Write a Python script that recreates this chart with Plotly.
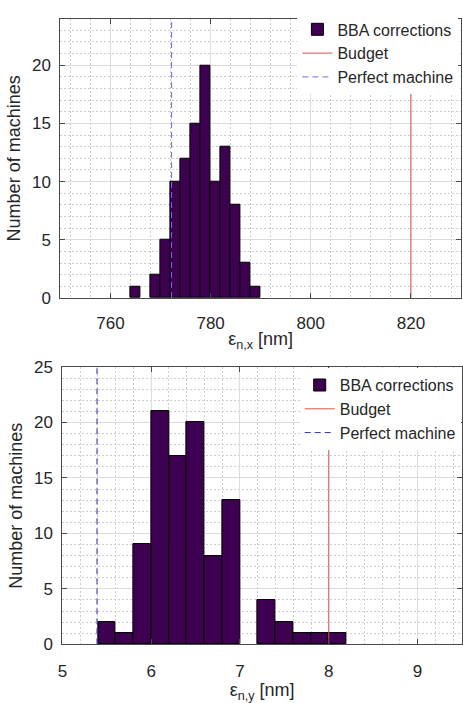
import plotly.graph_objects as go

# ---------------- data ----------------
# top histogram (horizontal emittance), bin width 2 nm
x_bin_left = [764, 766, 768, 770, 772, 774, 776, 778, 780, 782, 784, 786, 788]
x_counts = [1, 0, 2, 5, 10, 12, 15, 20, 10, 13, 8, 3, 1]
x_bin_width = 2
x_budget = 820
x_perfect = 772.2

# bottom histogram (vertical emittance), bin width 0.2 nm
y_bin_left = [5.4, 5.6, 5.8, 6.0, 6.2, 6.4, 6.6, 6.8, 7.0, 7.2, 7.4, 7.6, 7.8, 8.0]
y_counts = [2, 1, 9, 21, 17, 20, 8, 13, 0, 4, 2, 1, 1, 1]
y_bin_width = 0.2
y_budget = 8.0
y_perfect = 5.39

top_xrange = [750, 830]
top_yrange = [0, 24]
bot_xrange = [5, 9.5]
bot_yrange = [0, 25]

# ---------------- style ----------------
FONT = "Liberation Sans, Arial, sans-serif"
TXT = "#262626"
BAR = "#3e0050"
RED = "#e05050"
BLUE_TOP = "#6e6ee6"
BLUE_BOT = "#2e2ea0"
AXC = "#4a4a4a"
MINOR = dict(showgrid=True, griddash="2px,2px", gridcolor="#cdcdcd", gridwidth=1)

W, H = 463, 703

fig = go.Figure()

def add_panel(bin_left, counts, width, budget, perfect, yr, xa, ya, legend, blue):
    centers = [b + width / 2 for b in bin_left]
    heights = [c if c > 0 else None for c in counts]
    fig.add_trace(go.Bar(
        x=centers, y=heights, width=width,
        marker=dict(color=BAR, line=dict(color="black", width=1)),
        name="BBA corrections", xaxis=xa, yaxis=ya, legend=legend,
    ))
    fig.add_trace(go.Scatter(
        x=[budget, budget], y=yr, mode="lines",
        line=dict(color=RED, width=1), name="Budget",
        xaxis=xa, yaxis=ya, legend=legend,
    ))
    fig.add_trace(go.Scatter(
        x=[perfect, perfect], y=yr, mode="lines",
        line=dict(color=blue, width=1, dash="6px,4px"), name="Perfect machine",
        xaxis=xa, yaxis=ya, legend=legend,
    ))

add_panel(x_bin_left, x_counts, x_bin_width, x_budget, x_perfect, top_yrange, "x", "y", "legend", BLUE_TOP)
add_panel(y_bin_left, y_counts, y_bin_width, y_budget, y_perfect, bot_yrange, "x2", "y2", "legend2", BLUE_BOT)

def ax_common():
    return dict(
        showline=True, linecolor=AXC, linewidth=1, mirror="ticks",
        ticks="inside", ticklen=5, tickcolor=AXC, tickwidth=1,
        showgrid=True, gridcolor="#dcdcdc", gridwidth=1,
        zeroline=False,
        tickfont=dict(family=FONT, size=17, color=TXT),
        title_font=dict(family=FONT, size=18, color=TXT),
        layer="above traces",
    )

fig.update_layout(
    width=W, height=H,
    margin=dict(l=0, r=0, t=0, b=0),
    paper_bgcolor="white", plot_bgcolor="white",
    bargap=0, barmode="overlay",
    font=dict(family=FONT, color=TXT),
    xaxis=dict(**ax_common(), domain=[56 / W, 461 / W], anchor="y",
               range=top_xrange, dtick=20, tick0=0,
               minor=dict(dtick=4, **MINOR),
               ticklabelstandoff=10,
               title=dict(text="ε<sub>n,x</sub> [nm]", standoff=0)),
    yaxis=dict(**ax_common(), domain=[1 - 297 / H, 1 - 10 / H], anchor="x",
               range=top_yrange, dtick=5, tick0=0,
               minor=dict(dtick=1, **MINOR),
               ticklabelstandoff=5,
               title=dict(text="Number of machines", standoff=6)),
    xaxis2=dict(**ax_common(), domain=[58 / W, 462 / W], anchor="y2",
                range=bot_xrange, dtick=1, tick0=0,
                minor=dict(dtick=0.2, **MINOR),
                ticklabelstandoff=11,
                title=dict(text="ε<sub>n,y</sub> [nm]", standoff=1)),
    yaxis2=dict(**ax_common(), domain=[1 - 653 / H, 1 - 368 / H], anchor="x2",
                range=bot_yrange, dtick=5, tick0=0,
                minor=dict(dtick=1, **MINOR),
                ticklabelstandoff=5,
                title=dict(text="Number of machines", standoff=6)),
    legend=dict(x=0.99, y=0.995, xanchor="right", yanchor="top",
                bgcolor="white", borderwidth=0,
                font=dict(family=FONT, size=16, color=TXT),
                tracegroupgap=0, itemwidth=30),
    legend2=dict(x=0.995, y=0.475, xanchor="right", yanchor="top",
                 bgcolor="white", borderwidth=0,
                 font=dict(family=FONT, size=16, color=TXT),
                 tracegroupgap=0, itemwidth=30),
)

fig.write_html("out.html")
